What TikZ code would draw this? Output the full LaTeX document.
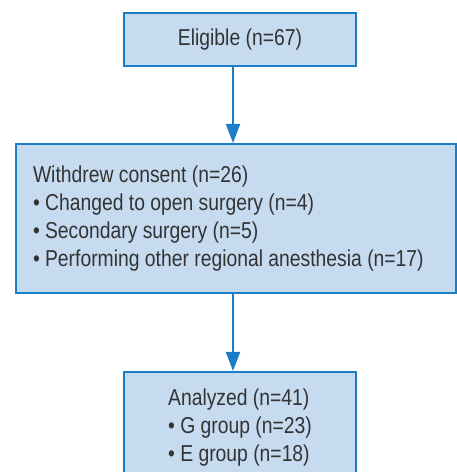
\documentclass[tikz,border=0pt]{standalone}
\usepackage{fontspec}
\setmainfont[FakeStretch=0.84]{Liberation Sans}
\usepackage{tikz}
\usetikzlibrary{arrows.meta}
\definecolor{boxfill}{HTML}{C6DBEF}
\definecolor{boxline}{HTML}{1B7DC6}
\definecolor{boxtext}{HTML}{333333}

\begin{document}
\begin{tikzpicture}[x=1pt,y=1pt,
                    every node/.style={font=\fontsize{23}{28}\selectfont, text=boxtext},
                    flowbox/.style={draw=boxline, fill=boxfill, line width=2pt, inner sep=0pt},
                    flowarrow/.style={draw=boxline, line width=2pt,
                                      -{Triangle[length=19pt,width=14pt]}}]
  \useasboundingbox (0,0) rectangle (457,472);
  \clip (0,0) rectangle (457,472);
  \node[flowbox, minimum width=232pt, minimum height=53pt] (elig) at (240,432.5) {Eligible (n=67)};
  \node[flowbox, minimum width=440pt, minimum height=149pt, text width=406pt,
        inner xsep=17pt, align=flush left] (withdrew) at (236,253.5)
    {Withdrew consent (n=26)\\
     • Changed to open surgery (n=4)\\
     • Secondary surgery (n=5)\\
     • Performing other regional anesthesia (n=17)};
  \node[flowbox, minimum width=232pt, minimum height=111pt, align=left] (analyzed) at (240,44.5)
    {Analyzed (n=41)\\
     • G group (n=23)\\
     • E group (n=18)};
  \draw[flowarrow] ([xshift=-7pt]elig.south) -- ([xshift=-7pt]elig.south |- withdrew.north);
  \draw[flowarrow] ([xshift=-3pt]withdrew.south) -- ([xshift=-3pt]withdrew.south |- analyzed.north);
\end{tikzpicture}
\end{document}
